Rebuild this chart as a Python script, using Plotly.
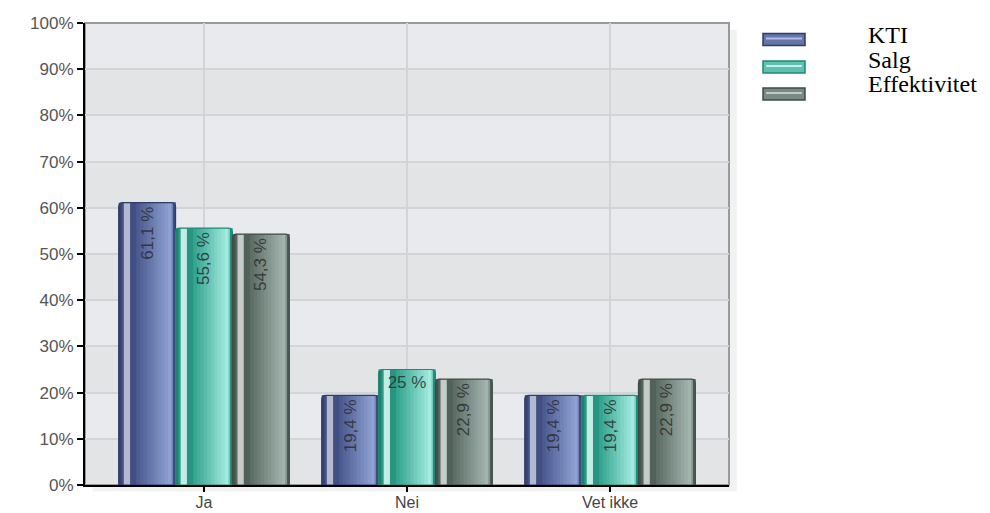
import plotly.graph_objects as go

categories = ["Ja", "Nei", "Vet ikke"]
series_names = ["KTI", "Salg", "Effektivitet"]
kti = [61.1, 19.4, 19.4]
salg = [55.6, 25.0, 19.4]
effektivitet = [54.3, 22.9, 22.9]
y_ticks = [0, 10, 20, 30, 40, 50, 60, 70, 80, 90, 100]
y_tick_labels = [f"{t}%" for t in y_ticks]

series_values = [kti, salg, effektivitet]

# style: (dark, light, highlight, outline)
palette = [
    ("#45538a", "#8fa1d2", "#b3bad0", "#2f3b68"),
    ("#2a9d88", "#a2ebdf", "#c3ece4", "#1d8a76"),
    ("#56675f", "#a3b4af", "#c4cbc9", "#3e4c47"),
]

W, H = 990, 513
ML, MR, MT, MB = 85, 261, 23, 28
PW, PH = W - ML - MR, H - MT - MB

BAR_W = 0.28
OFFSETS = [-0.42, -0.14, 0.14]


def hex2rgb(h):
    h = h.lstrip("#")
    return tuple(int(h[i:i + 2], 16) for i in (0, 2, 4))


def mix(a, b, t):
    ra, rb = hex2rgb(a), hex2rgb(b)
    return "rgb(%d,%d,%d)" % tuple(round(ra[i] + (rb[i] - ra[i]) * t) for i in range(3))


def label(v):
    if float(v).is_integer():
        return f"{int(v)} %"
    return f"{v:.1f}".replace(".", ",") + " %"


LABEL_FONT = dict(family="Liberation Sans", size=17, color="rgba(45,45,45,0.85)")

fig = go.Figure()

for si, (name, vals) in enumerate(zip(series_names, series_values)):
    D, L, HL, OL = palette[si]
    stripes = [
        (0.00, mix(D, "#000000", 0.2)),
        (0.05, D),
        (0.09, HL),
        (0.20, mix(D, "#000000", 0.05)),
    ]
    n = 10
    t0, t1 = 0.31, 0.93
    for k in range(n):
        a = t0 + (t1 - t0) * k / n
        stripes.append((a, mix(D, L, (k + 1) / n)))
    stripes.append((0.93, mix(D, L, 0.6)))
    stripes.append((0.97, mix(D, "#000000", 0.1)))
    # each stripe runs to the right edge; later ones cover earlier ones (no seams)
    for a, col in stripes:
        fig.add_trace(go.Bar(
            x=categories, y=vals,
            offset=OFFSETS[si] + a * BAR_W, width=(1 - a) * BAR_W,
            marker=dict(color=col, line=dict(width=0)),
            showlegend=False, hoverinfo="skip",
        ))
    labels_v = [label(v) if not float(v).is_integer() else "" for v in vals]
    labels_h = [label(v) if float(v).is_integer() else "" for v in vals]
    fig.add_trace(go.Bar(
        x=categories, y=vals, name=name,
        offset=OFFSETS[si], width=BAR_W,
        marker=dict(color="rgba(0,0,0,0)", line=dict(color=OL, width=1.2), cornerradius=4),
        text=labels_v, textposition="inside", insidetextanchor="end", textangle=-90,
        insidetextfont=LABEL_FONT, constraintext="none",
        showlegend=False, hoverinfo="skip",
    ))
    if any(labels_h):
        fig.add_trace(go.Bar(
            x=categories, y=vals,
            offset=OFFSETS[si], width=BAR_W,
            marker=dict(color="rgba(0,0,0,0)", line=dict(width=0)),
            text=labels_h, textposition="inside", insidetextanchor="end", textangle=0,
            insidetextfont=LABEL_FONT, constraintext="none",
            showlegend=False, hoverinfo="skip",
        ))

shapes = []
# soft shadow strips right of / below the plot area
shapes.append(dict(type="rect", xref="paper", yref="paper", x0=1.0, x1=1.012, y0=-0.014, y1=0.985,
                   fillcolor="rgba(0,0,0,0.05)", line=dict(width=0), layer="below"))
shapes.append(dict(type="rect", xref="paper", yref="paper", x0=0.012, x1=1.0, y0=-0.014, y1=0.0,
                   fillcolor="rgba(0,0,0,0.05)", line=dict(width=0), layer="below"))
# alternating bands
for i in range(0, len(y_ticks) - 1, 2):
    shapes.append(dict(type="rect", xref="x domain", yref="y", x0=0, x1=1,
                       y0=y_ticks[i], y1=y_ticks[i + 1], fillcolor="#e3e4e6",
                       line=dict(width=0), layer="below"))
# border
shapes.append(dict(type="rect", xref="x domain", yref="y domain", x0=0, x1=1, y0=0, y1=1,
                   line=dict(color="#9a9a9a", width=2), fillcolor="rgba(0,0,0,0)", layer="below"))


def px(x):
    return (x - ML) / PW


def py(y):
    return (H - MB - y) / PH


annotations = []
sw_centers = [39.5, 67, 94]
txt_centers = [35, 60, 84]
for si, name in enumerate(series_names):
    D, L, HL, OL = palette[si]
    cy = sw_centers[si]
    shapes.append(dict(type="rect", xref="paper", yref="paper",
                       x0=px(763), x1=px(805), y0=py(cy + 6), y1=py(cy - 6),
                       fillcolor=mix(D, L, 0.45), line=dict(color=OL, width=1.5), layer="above"))
    shapes.append(dict(type="line", xref="paper", yref="paper",
                       x0=px(766), x1=px(802), y0=py(cy - 1), y1=py(cy - 1),
                       line=dict(color=mix(L, "#ffffff", 0.3), width=2), layer="above"))
    annotations.append(dict(xref="paper", yref="paper", x=px(866), y=py(txt_centers[si]),
                            xanchor="left", yanchor="middle", text=name, showarrow=False,
                            font=dict(family="Liberation Serif", size=24, color="#000000")))

fig.update_layout(
    width=W, height=H,
    margin=dict(l=ML, r=MR, t=MT, b=MB, pad=0),
    barmode="overlay",
    paper_bgcolor="#ffffff",
    plot_bgcolor="#e8eaed",
    shapes=shapes,
    annotations=annotations,
    showlegend=False,
    xaxis=dict(
        type="category", categoryorder="array", categoryarray=categories,
        range=[-0.586, 2.586], automargin=False,
        showgrid=True, gridcolor="#d3d4d7", gridwidth=1.5,
        showline=True, linecolor="#000000", linewidth=1.5,
        ticks="outside", ticklen=5, tickcolor="#000000", tickwidth=2,
        ticklabelstandoff=-3,
        tickfont=dict(family="Liberation Sans", size=16, color="#444444"),
        zeroline=False, fixedrange=True,
    ),
    yaxis=dict(
        range=[0, 100], tickvals=y_ticks, ticktext=y_tick_labels, automargin=False,
        showgrid=True, gridcolor="#d3d4d7", gridwidth=1.5,
        showline=True, linecolor="#000000", linewidth=2,
        ticks="outside", ticklen=6, tickcolor="#000000", tickwidth=1.5,
        tickfont=dict(family="Liberation Sans", size=17, color="#555555"),
        zeroline=False, fixedrange=True,
    ),
)

fig.write_html("out.html")
